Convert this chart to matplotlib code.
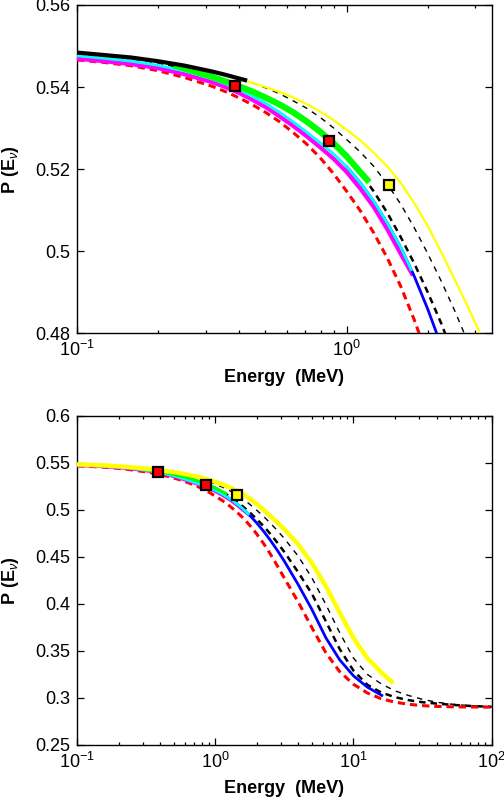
import matplotlib
matplotlib.use("Agg")
import matplotlib.pyplot as plt
from matplotlib.ticker import FuncFormatter, LogLocator, MultipleLocator

plt.rcParams['font.family'] = ['Liberation Sans', 'DejaVu Sans']
plt.rcParams['mathtext.fontset'] = 'custom'
plt.rcParams['mathtext.rm'] = 'Liberation Sans'
plt.rcParams['mathtext.it'] = 'Liberation Sans:italic'
plt.rcParams['mathtext.bf'] = 'Liberation Sans:bold'

E_all = [0.1, 0.1259, 0.1585, 0.1995, 0.2512,
         0.3162, 0.3548, 0.3981, 0.4467, 0.5012, 0.5623, 0.631, 0.7079, 0.7943, 0.8913,
         1.0, 1.122, 1.259, 1.413, 1.585, 1.778, 1.995, 2.239, 2.512, 2.818,
         3.162, 3.981, 5.012, 6.31, 7.943,
         10.0, 12.59, 15.85, 19.95, 25.12,
         31.62, 39.81, 50.12, 63.1, 79.43,
         100.0]

red_P = [0.5466, 0.5460, 0.5452, 0.5440, 0.5423,
         0.5402, 0.5389, 0.5374, 0.5357, 0.5338, 0.5316, 0.5290, 0.5262, 0.5229, 0.5190,
         0.5146, 0.5099, 0.5045, 0.4984, 0.4915, 0.4834, 0.4743, 0.4640, 0.4526, 0.4402,
         0.4273, 0.4020, 0.3745, 0.3480, 0.3280,
         0.3145, 0.3053, 0.2992, 0.2955, 0.2932,
         0.2918, 0.2910, 0.2906, 0.2904, 0.2903,
         0.2902]

# thick black dashed
bkA_P = [0.5482, 0.5477, 0.5470, 0.5460, 0.5445,
         0.5425, 0.5414, 0.5402, 0.5389, 0.5374, 0.5358, 0.5339, 0.5317, 0.5292, 0.5264,
         0.5231, 0.5192, 0.5146, 0.5094, 0.5035, 0.4971, 0.4901, 0.4825, 0.4741, 0.4649,
         0.4551, 0.4336, 0.4105, 0.3815, 0.3520,
         0.3290, 0.3140, 0.3058, 0.3008, 0.2976,
         0.2954, 0.2940, 0.2928, 0.2918, 0.2911,
         0.2906]

# thin black dashed
bkC_P = [0.5482, 0.5476, 0.5470, 0.5461, 0.5450,
         0.5437, 0.5429, 0.5420, 0.5410, 0.5398, 0.5384, 0.5367, 0.5349, 0.5327, 0.5301,
         0.5272, 0.5242, 0.5207, 0.5164, 0.5115, 0.5058, 0.4995, 0.4928, 0.4856, 0.4778,
         0.4694, 0.4507, 0.4274, 0.3994, 0.3694,
         0.3424, 0.3250, 0.3150, 0.3075, 0.3025,
         0.2985, 0.2955, 0.2935, 0.2922, 0.2913,
         0.2906]

yel_E = E_all[:33] + [18.92]
yel_P = [0.5483, 0.5477, 0.5471, 0.5462, 0.5451,
         0.5437, 0.5429, 0.5420, 0.5410, 0.5400, 0.5388, 0.5375, 0.5359, 0.5341, 0.5320,
         0.5296, 0.5270, 0.5240, 0.5207, 0.5167, 0.5118, 0.5062, 0.4999, 0.4932, 0.4864,
         0.4792, 0.4632, 0.4432, 0.4187, 0.3907,
         0.3637, 0.3422, 0.3272, 0.3172]

cyan_E = E_all[:20] + [1.734]
cyan_P = [0.5476, 0.5470, 0.5463, 0.5453, 0.5439,
          0.5420, 0.5408, 0.5394, 0.5378, 0.5360, 0.5339, 0.5316, 0.5291, 0.5265, 0.5238,
          0.5206, 0.5167, 0.5122, 0.5069, 0.5010, 0.4955]

mag_E = E_all[:20] + [1.746]
mag_P = [0.5469, 0.5463, 0.5456, 0.5446, 0.5431,
         0.5412, 0.5400, 0.5386, 0.5369, 0.5351, 0.5329, 0.5306, 0.5281, 0.5254, 0.5226,
         0.5193, 0.5153, 0.5108, 0.5054, 0.4994, 0.4945]

blue_E = [1.0, 1.122, 1.259, 1.413, 1.585, 1.778, 1.995, 2.239, 2.512, 2.818, 3.162,
          3.981, 5.012, 6.31, 7.943, 10.0, 12.59, 16.03]
blue_P = [0.5206, 0.5167, 0.5122, 0.5069, 0.5010, 0.4940, 0.4860, 0.4771, 0.4673,
          0.4567, 0.4453, 0.4205, 0.3938, 0.3640, 0.3405, 0.3235, 0.3115, 0.3027]

green_E = [0.2344, 0.2512, 0.3162, 0.3548, 0.3981, 0.4467, 0.5012, 0.5623, 0.631,
           0.7079, 0.7943, 0.8913, 1.0, 1.122, 1.191]
green_P = [0.5451, 0.5445, 0.5425, 0.5414, 0.5402, 0.5389, 0.5374, 0.5358, 0.5339,
           0.5317, 0.5292, 0.5264, 0.5231, 0.5193, 0.5174]

# solid black piece at low energy (upper panel)
band_E = [0.1, 0.1259, 0.1585, 0.1995, 0.2512, 0.3162, 0.3548, 0.3981, 0.42]
band_P = [0.5484, 0.5478, 0.5472, 0.5463, 0.5452, 0.5438, 0.5430, 0.5421, 0.5417]

# data points
pt_E = [0.384, 0.862, 1.44]
pt_P = [0.5403, 0.5268, 0.5162]
pt_col = ['red', 'red', 'yellow']

fig = plt.figure(figsize=(5.04, 8.0), dpi=100)
ax1 = fig.add_axes([0.1528, 0.5834, 0.8228, 0.4104])
ax2 = fig.add_axes([0.1528, 0.0688, 0.8228, 0.4116])


def draw(ax, top):
    ax.plot(E_all, bkC_P, color='k', lw=1.0, ls=(0, (4, 4)), zorder=2)
    ax.plot(E_all, bkA_P, color='k', lw=1.8, ls=(0, (2.6, 2.0)), zorder=2)
    if top:
        ax.plot(yel_E, yel_P, color='#ffff00', lw=1.6, zorder=3)
    ax.plot(E_all, red_P, color='#ff0000', lw=2.2, ls=(0, (2.4, 1.6)), zorder=3)
    ax.plot(mag_E, mag_P, color='#ff00ff', lw=3.0 if top else 2.0, zorder=4)
    ax.plot(blue_E, blue_P, color='#0000ff', lw=2.0, zorder=4.5)
    ax.plot(cyan_E, cyan_P, color='#00ffff', lw=2.0, zorder=5)
    ax.plot(green_E, green_P, color='#00ff00', lw=4.5 if top else 2.2, zorder=6)
    if top:
        ax.plot(band_E, band_P, color='k', lw=3.0, zorder=7)
    else:
        ax.plot(yel_E, yel_P, color='#ffff00', lw=3.2, zorder=7)
    for e, p, c in zip(pt_E, pt_P, pt_col):
        ax.plot([e], [p], 's', ms=7.5, mfc=c, mec='k', mew=1.6, zorder=10)

    ax.set_xscale('log')
    ax.xaxis.set_major_locator(LogLocator(base=10))
    ax.xaxis.set_minor_locator(LogLocator(base=10, subs=range(2, 10)))
    ax.yaxis.set_major_formatter(FuncFormatter(lambda v, p: '%g' % round(v, 4)))
    ax.tick_params(which='both', direction='in', top=True, right=True,
                   labelsize=13, width=0.9)
    ax.tick_params(which='major', length=5, pad=5)
    ax.tick_params(which='minor', length=2.5)
    for s in ax.spines.values():
        s.set_linewidth(1.0)
    ax.set_xlabel('Energy  (MeV)', fontsize=13, fontweight='bold', labelpad=6)
    ax.set_ylabel(r'P (E$_{\nu}$)', fontsize=13, fontweight='bold', labelpad=10)


draw(ax1, True)
ax1.set_xlim(0.1, 3.45)
ax1.set_ylim(0.48, 0.56)
ax1.yaxis.set_major_locator(MultipleLocator(0.02))

draw(ax2, False)
ax2.set_xlim(0.1, 100)
ax2.set_ylim(0.25, 0.6)
ax2.yaxis.set_major_locator(MultipleLocator(0.05))

fig.savefig('out.png', dpi=100)
